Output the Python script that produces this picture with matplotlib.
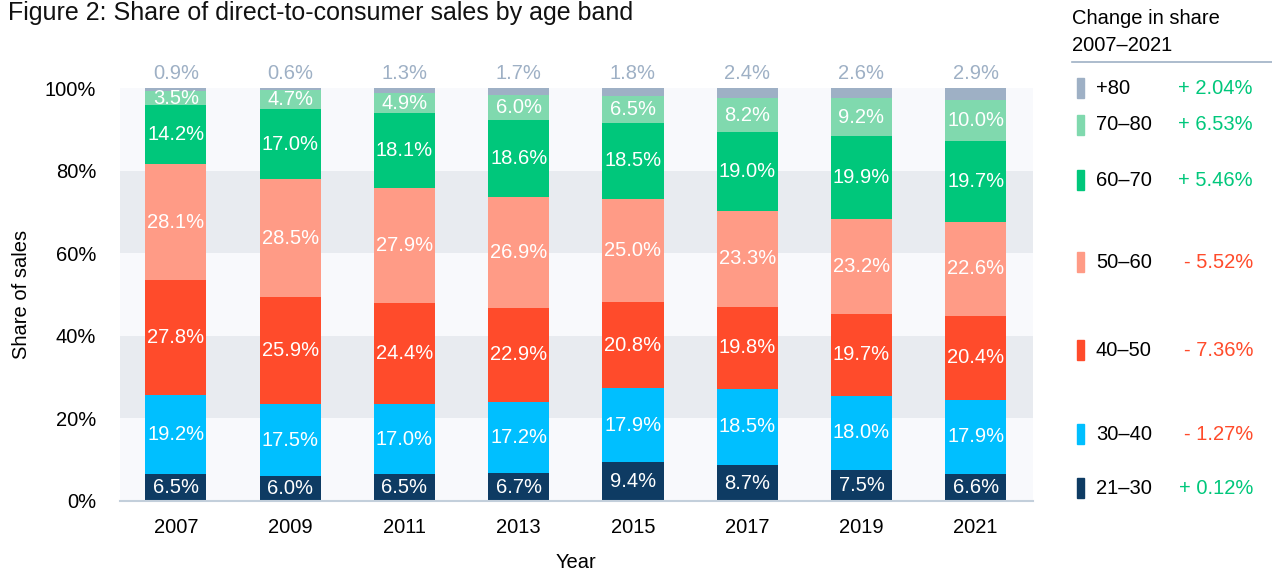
import matplotlib
matplotlib.use("Agg")
import matplotlib.pyplot as plt
import numpy as np

plt.rcParams['font.family'] = ['Liberation Sans', 'DejaVu Sans']

years = ['2007', '2009', '2011', '2013', '2015', '2017', '2019', '2021']
bands = ['21–30', '30–40', '40–50', '50–60', '60–70', '70–80', '+80']
shares = {
    '21–30': [6.5, 6.0, 6.5, 6.7, 9.4, 8.7, 7.5, 6.6],
    '30–40': [19.2, 17.5, 17.0, 17.2, 17.9, 18.5, 18.0, 17.9],
    '40–50': [27.8, 25.9, 24.4, 22.9, 20.8, 19.8, 19.7, 20.4],
    '50–60': [28.1, 28.5, 27.9, 26.9, 25.0, 23.3, 23.2, 22.6],
    '60–70': [14.2, 17.0, 18.1, 18.6, 18.5, 19.0, 19.9, 19.7],
    '70–80': [3.5, 4.7, 4.9, 6.0, 6.5, 8.2, 9.2, 10.0],
    '+80': [0.9, 0.6, 1.3, 1.7, 1.8, 2.4, 2.6, 2.9],
}
change = {
    '21–30': '+ 0.12%', '30–40': '- 1.27%', '40–50': '- 7.36%',
    '50–60': '- 5.52%', '60–70': '+ 5.46%', '70–80': '+ 6.53%', '+80': '+ 2.04%',
}
colors = {
    '21–30': '#0e3b63', '30–40': '#00bfff', '40–50': '#ff4b2b',
    '50–60': '#ff9b86', '60–70': '#00c77b', '70–80': '#80d9ae', '+80': '#9eb0c5',
}
green = '#00c77b'
red = '#ff4b2b'
grey = '#9eb0c5'
fs = 14.5

fig = plt.figure(figsize=(12.72, 5.73), dpi=100)
ax = fig.add_axes([0.0943, 0.1257, 0.812 - 0.0943, 0.8464 - 0.1257])

# background bands
for i, lo in enumerate(range(0, 100, 20)):
    ax.axhspan(lo, lo + 20, color='#e8ebf0' if i % 2 else '#f8f9fc', zorder=0, lw=0)

x = np.arange(len(years))
bottom = np.zeros(len(years))
for b in bands:
    vals = np.array(shares[b])
    ax.bar(x, vals, 0.535, bottom=bottom, color=colors[b], zorder=2)
    for xi, v, bt in zip(x, vals, bottom):
        if b == '+80':
            ax.text(xi, 101.3, f'{v:.1f}%', ha='center', va='bottom', color=grey,
                    fontsize=fs, clip_on=False)
        else:
            ax.text(xi, bt + v / 2, f'{v:.1f}%', ha='center', va='center',
                    color='white', fontsize=fs, zorder=3)
    bottom += vals

ax.set_xlim(-0.49, 7.5)
ax.set_ylim(0, 100)
ax.set_xticks(x)
ax.set_xticklabels(years)
ax.set_yticks(range(0, 101, 20))
ax.set_yticklabels([f'{v}%' for v in range(0, 101, 20)])
ax.tick_params(length=0, labelsize=fs, pad=12)
ax.tick_params(axis='y', pad=17)
for s in ['top', 'right', 'left']:
    ax.spines[s].set_visible(False)
ax.spines['bottom'].set_color('#c3cfdb')
ax.spines['bottom'].set_linewidth(1.5)
ax.set_xlabel('Year', fontsize=fs, labelpad=12)
ax.set_ylabel('Share of sales', fontsize=fs, labelpad=10)

fig.text(0.006, 0.999, 'Figure 2: Share of direct-to-consumer sales by age band',
         fontsize=18, va='top', ha='left', color='#111111')

# right-hand legend with change in share
fig.text(0.843, 0.968, 'Change in share', fontsize=fs, va='center', ha='left')
fig.text(0.843, 0.921, '2007–2021', fontsize=fs, va='center', ha='left')
fig.add_artist(plt.Line2D([0.843, 1.0], [0.892, 0.892], color=grey, lw=1.2))

legend_y = {'+80': 88, '70–80': 125, '60–70': 180, '50–60': 262,
            '40–50': 350, '30–40': 434, '21–30': 488}
for b in bands:
    yf = 1 - legend_y[b] / 573
    fig.add_artist(plt.Rectangle((1077 / 1272, yf - 10 / 573), 7 / 1272, 20 / 573,
                                 color=colors[b], transform=fig.transFigure))
    fig.text(1096 / 1272, yf, b, fontsize=fs, va='center', ha='left')
    c = green if change[b].startswith('+') else red
    fig.text(1253 / 1272, yf, change[b], fontsize=fs, va='center', ha='right', color=c)

fig.savefig('out.png', dpi=100)
